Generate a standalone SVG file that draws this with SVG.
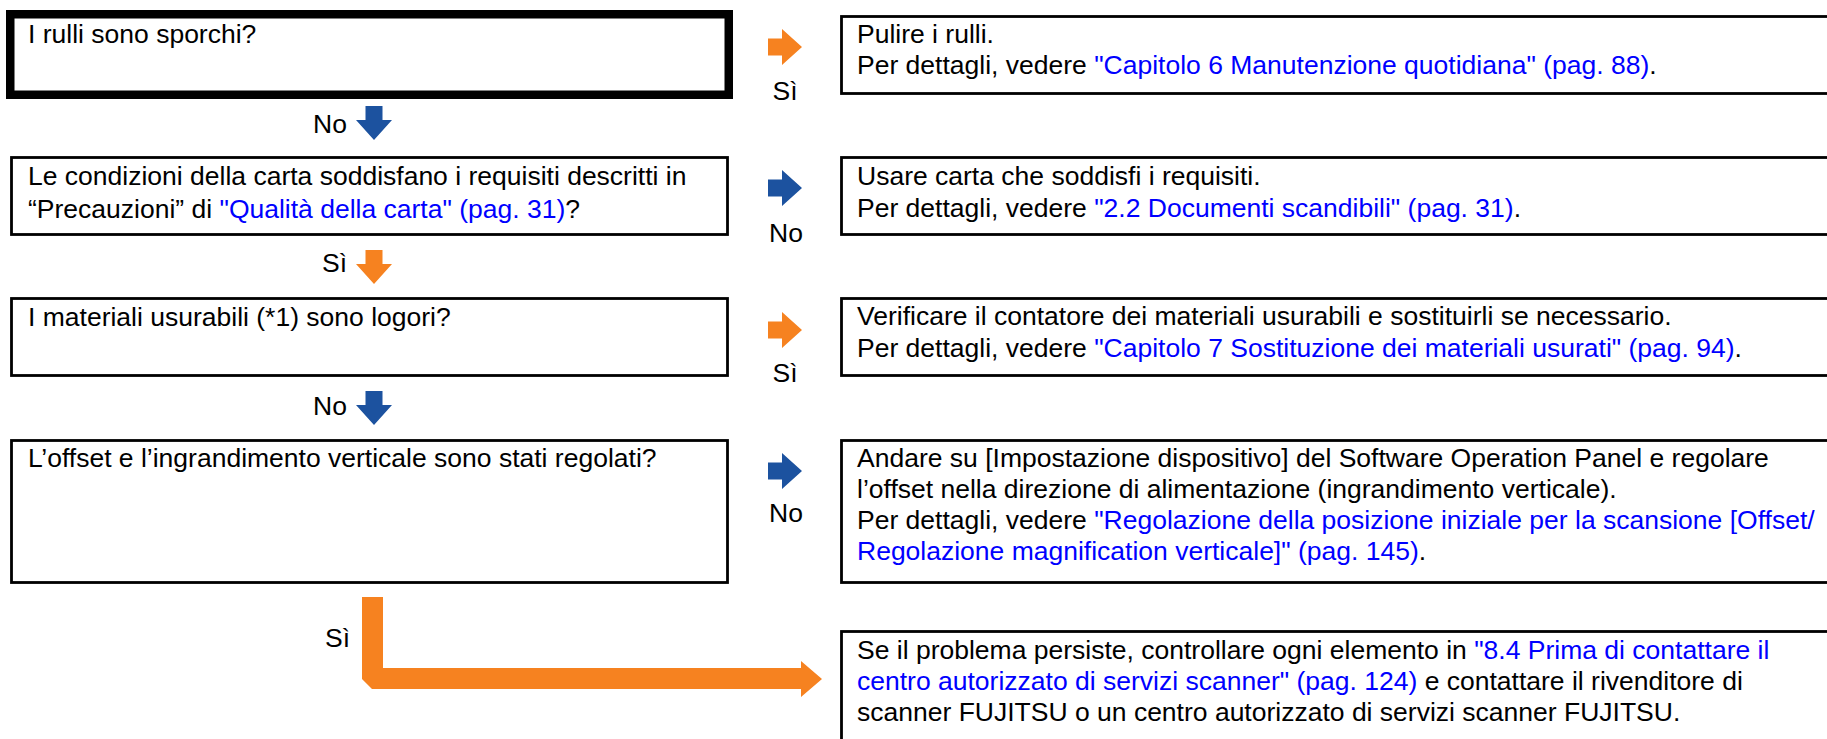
<svg xmlns="http://www.w3.org/2000/svg" width="1827" height="739" viewBox="0 0 1827 739">
<style>
text{font-family:"Liberation Sans",Arial,Helvetica,sans-serif;font-size:26.5px;fill:#000}
.box{fill:#fff;stroke:#000;stroke-width:2.8}
.thick{fill:#fff;stroke:#000;stroke-width:8.5}
.lnk{fill:#0000ff}
.or{fill:#f68220}
.bl{fill:#1c529f}
.lbl{text-anchor:middle}
.lblr{text-anchor:end}
</style>
<defs>
<path id="ar" d="M0,-8.5 H14 V-18 L34,0 L14,18 V8.5 H0 Z"/>
<path id="ad" d="M-8.5,0 V14 H-18 L0,34 L18,14 H8.5 V0 Z"/>
</defs>
<rect width="1827" height="739" fill="#fff"/>

<g id="q1">
<rect class="thick" x="10.25" y="14.25" width="718.5" height="80.5"/>
<text x="28" y="43">I rulli sono sporchi?</text>
</g>
<g id="a1">
<rect class="box" x="841.5" y="16.5" width="1000" height="77"/>
<text x="857" y="43">Pulire i rulli.</text>
<text x="857" y="74">Per dettagli, vedere <tspan class="lnk">"Capitolo 6 Manutenzione quotidiana" (pag. 88)</tspan>.</text>
</g>

<g id="q2">
<rect class="box" x="11.5" y="157.5" width="716" height="77"/>
<text x="28" y="185">Le condizioni della carta soddisfano i requisiti descritti in</text>
<text x="28" y="218">“Precauzioni” di <tspan class="lnk">"Qualità della carta" (pag. 31)</tspan>?</text>
</g>
<g id="a2">
<rect class="box" x="841.5" y="157.5" width="1000" height="77"/>
<text x="857" y="185">Usare carta che soddisfi i requisiti.</text>
<text x="857" y="217">Per dettagli, vedere <tspan class="lnk">"2.2 Documenti scandibili" (pag. 31)</tspan>.</text>
</g>

<g id="q3">
<rect class="box" x="11.5" y="298.5" width="716" height="77"/>
<text x="28" y="326">I materiali usurabili (*1) sono logori?</text>
</g>
<g id="a3">
<rect class="box" x="841.5" y="298.5" width="1000" height="77"/>
<text x="857" y="325">Verificare il contatore dei materiali usurabili e sostituirli se necessario.</text>
<text x="857" y="357">Per dettagli, vedere <tspan class="lnk">"Capitolo 7 Sostituzione dei materiali usurati" (pag. 94)</tspan>.</text>
</g>

<g id="q4">
<rect class="box" x="11.5" y="440.5" width="716" height="142"/>
<text x="28" y="467">L’offset e l’ingrandimento verticale sono stati regolati?</text>
</g>
<g id="a4">
<rect class="box" x="841.5" y="440.5" width="1000" height="142"/>
<text x="857" y="467">Andare su [Impostazione dispositivo] del Software Operation Panel e regolare</text>
<text x="857" y="498">l’offset nella direzione di alimentazione (ingrandimento verticale).</text>
<text x="857" y="529">Per dettagli, vedere <tspan class="lnk">"Regolazione della posizione iniziale per la scansione [Offset/</tspan></text>
<text x="857" y="560"><tspan class="lnk">Regolazione magnification verticale]" (pag. 145)</tspan>.</text>
</g>

<g id="a5">
<rect class="box" x="841.5" y="631.5" width="1000" height="120"/>
<text x="857" y="659">Se il problema persiste, controllare ogni elemento in <tspan class="lnk">"8.4 Prima di contattare il</tspan></text>
<text x="857" y="690"><tspan class="lnk">centro autorizzato di servizi scanner" (pag. 124)</tspan> e contattare il rivenditore di</text>
<text x="857" y="721">scanner FUJITSU o un centro autorizzato di servizi scanner FUJITSU.</text>
</g>

<g id="connectors">
<use href="#ar" class="or" x="768" y="47"/>
<text class="lbl" x="785" y="100">Sì</text>
<use href="#ad" class="bl" x="374" y="106"/>
<text class="lblr" x="347" y="133">No</text>

<use href="#ar" class="bl" x="768" y="188"/>
<text class="lbl" x="786" y="242">No</text>
<use href="#ad" class="or" x="374" y="250"/>
<text class="lblr" x="347" y="272">Sì</text>

<use href="#ar" class="or" x="768" y="330"/>
<text class="lbl" x="785" y="382">Sì</text>
<use href="#ad" class="bl" x="374" y="391"/>
<text class="lblr" x="347" y="415">No</text>

<use href="#ar" class="bl" x="768" y="471"/>
<text class="lbl" x="786" y="522">No</text>

<polygon class="or" points="362,597 383,597 383,668 801,668 801,661 822,679 801,697 801,689 372,689 362,679"/>
<text class="lblr" x="350" y="647">Sì</text>
</g>
</svg>
